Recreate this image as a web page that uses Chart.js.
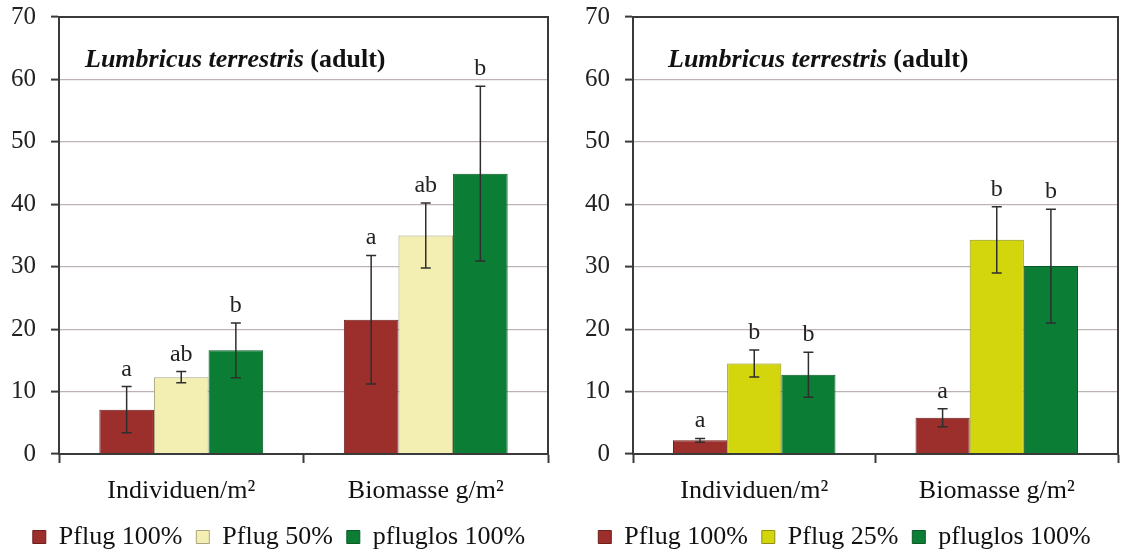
<!DOCTYPE html>
<html>
<head>
<meta charset="utf-8">
<script src="https://cdn.jsdelivr.net/npm/chart.js@4/dist/chart.umd.min.js"></script>
<style>
  html, body { margin: 0; padding: 0; background: #fff; }
  .box { position: absolute; top: 0; width: 561px; height: 552px; }
  #b1 { left: 0; }
  #b2 { left: 561px; }
</style>
</head>
<body>
<div class="box" id="b1"><canvas id="grafico1"></canvas></div>
<div class="box" id="b2"><canvas id="grafico2"></canvas></div>
<script>
// Daten
const categories = ["Individuen/m²", "Biomasse g/m²"];
const yMin = 0, yMax = 70, yStep = 10;
const titleItalic = "Lumbricus terrestris";
const titleBold = " (adult)";

// linkes Diagramm
const left_names = ["Pflug 100%", "Pflug 50%", "pfluglos 100%"];
const left_pflug100 = [7.1, 21.5];
const left_pflug100_err = [3.7, 10.3];
const left_pflug100_sig = ["a", "a"];
const left_pflug50 = [12.3, 35.0];
const left_pflug50_err = [0.9, 5.2];
const left_pflug50_sig = ["ab", "ab"];
const left_pfluglos = [16.6, 44.9];
const left_pfluglos_err = [4.4, 14.0];
const left_pfluglos_sig = ["b", "b"];

// rechtes Diagramm
const right_names = ["Pflug 100%", "Pflug 25%", "pfluglos 100%"];
const right_pflug100 = [2.2, 5.8];
const right_pflug100_err = [0.3, 1.45];
const right_pflug100_sig = ["a", "a"];
const right_pflug25 = [14.5, 34.3];
const right_pflug25_err = [2.15, 5.3];
const right_pflug25_sig = ["b", "b"];
const right_pfluglos = [12.7, 30.1];
const right_pfluglos_err = [3.6, 9.1];
const right_pfluglos_sig = ["b", "b"];

const SERIF = "'Liberation Serif', 'Times New Roman', serif";
const DARK = "#3a3a3a";

// Fehlerbalken + Buchstaben
const errorBars = {
    id: "errorBars",
    afterDatasetsDraw(chart){
        const ctx = chart.ctx;
        const y = chart.scales.y;
        chart.data.datasets.forEach((ds, i) => {
            const meta = chart.getDatasetMeta(i);
            meta.data.forEach((bar, j) => {
                const v = ds.data[j], e = ds.err[j];
                const top = y.getPixelForValue(v + e);
                const bot = y.getPixelForValue(v - e);
                ctx.save();
                ctx.strokeStyle = "#2e2e2e";
                ctx.lineWidth = 1.5;
                ctx.beginPath();
                ctx.moveTo(bar.x, top); ctx.lineTo(bar.x, bot);
                ctx.moveTo(bar.x - 5, top); ctx.lineTo(bar.x + 5, top);
                ctx.moveTo(bar.x - 5, bot); ctx.lineTo(bar.x + 5, bot);
                ctx.stroke();
                ctx.fillStyle = "#222";
                ctx.font = "24px " + SERIF;
                ctx.textAlign = "center";
                ctx.textBaseline = "alphabetic";
                ctx.fillText(ds.sig[j], bar.x, top - 11);
                ctx.restore();
            });
        });
    },
    afterDraw(chart){
        const ctx = chart.ctx;
        const a = chart.chartArea;
        ctx.save();
        ctx.strokeStyle = DARK;
        ctx.lineWidth = 2;
        ctx.strokeRect(a.left, a.top, a.right - a.left, a.bottom - a.top);
        // Titel im Diagramm
        ctx.fillStyle = "#111";
        ctx.textBaseline = "middle";
        ctx.textAlign = "left";
        ctx.font = "italic bold 26px " + SERIF;
        const x0 = a.left + chart.options.titleOffset;
        const ty = a.top + 43;
        ctx.fillText(titleItalic, x0, ty);
        const w = ctx.measureText(titleItalic).width;
        ctx.font = "bold 26px " + SERIF;
        ctx.fillText(titleBold, x0 + w, ty);
        ctx.restore();
    }
};

function makeChart(id, names, values, errs, sigs, colors, borders, padLeft, yWidth, padRight, titleOffset){
    const datasets = names.map((n, i) => ({
        label: n,
        data: values[i],
        err: errs[i],
        sig: sigs[i],
        backgroundColor: colors[i],
        borderColor: borders[i],
        borderWidth: 1,
        barPercentage: 1,
        categoryPercentage: 0.67
    }));
    return new Chart(document.getElementById(id), {
        type: "bar",
        data: { labels: categories, datasets: datasets },
        options: {
            responsive: true,
            maintainAspectRatio: false,
            animation: false,
            titleOffset: titleOffset,
            layout: { padding: { top: 17, right: padRight, left: padLeft, bottom: -8 } },
            plugins: {
                legend: {
                    position: "bottom",
                    labels: {
                        font: { family: SERIF, size: 26 },
                        color: "#111",
                        boxWidth: 13,
                        boxHeight: 13,
                        padding: 14
                    }
                },
                tooltip: { enabled: false }
            },
            scales: {
                x: {
                    grid: {
                        offset: true,
                        drawOnChartArea: false,
                        tickLength: 9,
                        tickColor: DARK,
                        tickWidth: 2
                    },
                    border: { color: DARK, width: 2 },
                    ticks: { font: { family: SERIF, size: 26 }, color: "#111", padding: 13 },
                    afterFit(s){ s.height = 56; }
                },
                y: {
                    min: yMin, max: yMax,
                    ticks: { stepSize: yStep, font: { family: SERIF, size: 25 }, color: "#222", padding: 15 },
                    grid: {
                        color: ctx => (ctx.tick && (ctx.tick.value === yMin || ctx.tick.value === yMax)) ? "rgba(0,0,0,0)" : "#bdb3b3",
                        lineWidth: 1.2,
                        tickLength: 8,
                        tickColor: DARK,
                        tickWidth: 2
                    },
                    border: { color: DARK, width: 2 },
                    afterFit(s){
                        s.width = yWidth;
                        s.paddingTop = 0;
                        s.paddingBottom = 0;
                    }
                }
            }
        },
        plugins: [errorBars]
    });
}

makeChart("grafico1", left_names,
    [left_pflug100, left_pflug50, left_pfluglos],
    [left_pflug100_err, left_pflug50_err, left_pfluglos_err],
    [left_pflug100_sig, left_pflug50_sig, left_pfluglos_sig],
    ["#9c2f2b", "#f3efb2", "#0b7d34"],
    ["#6e1f1c", "#a9a57c", "#0a5a25"],
    10, 49, 13, 26);

makeChart("grafico2", right_names,
    [right_pflug100, right_pflug25, right_pfluglos],
    [right_pflug100_err, right_pflug25_err, right_pfluglos_err],
    [right_pflug100_sig, right_pflug25_sig, right_pfluglos_sig],
    ["#9c2f2b", "#d3d60c", "#0b7d34"],
    ["#6e1f1c", "#8e9010", "#0a5a25"],
    10, 62, 4, 35);
</script>
</body>
</html>
